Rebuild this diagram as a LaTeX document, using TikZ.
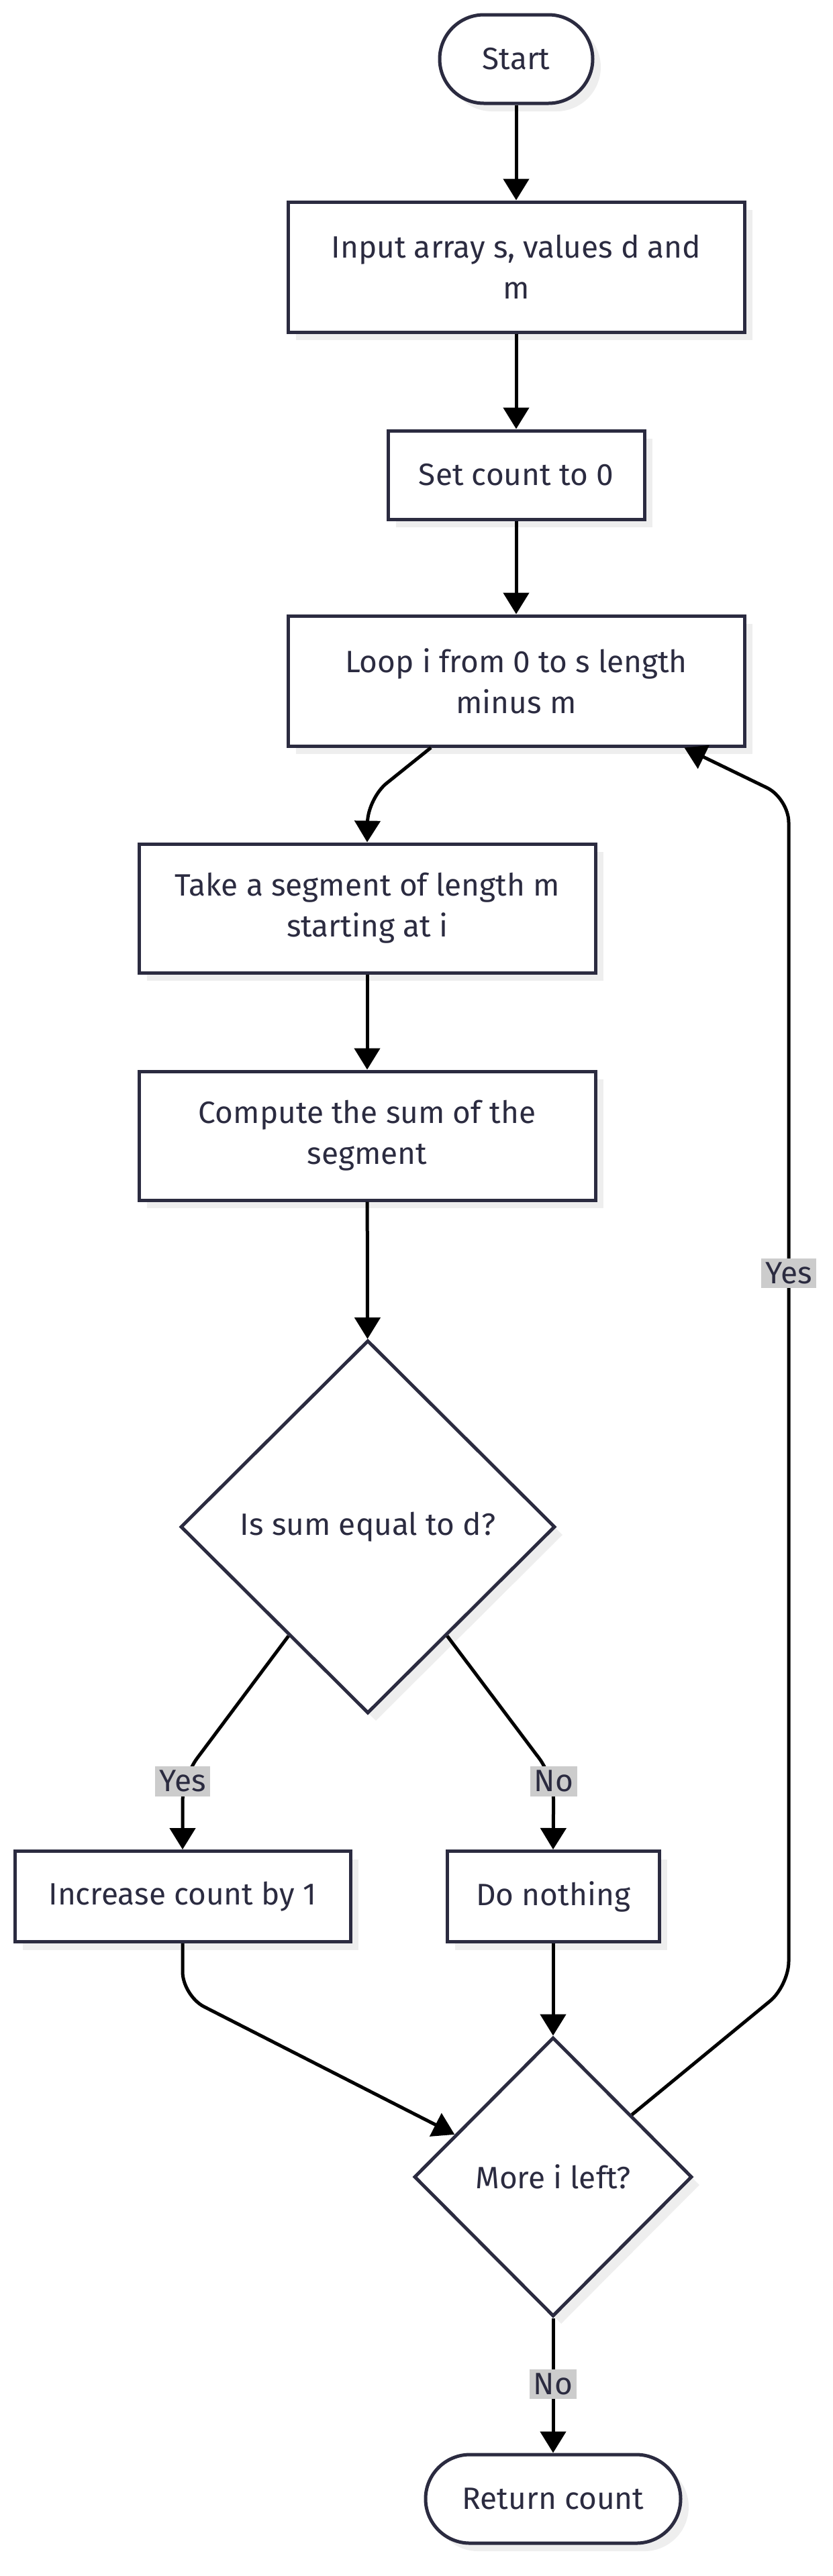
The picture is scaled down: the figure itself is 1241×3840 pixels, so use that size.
\documentclass[tikz,border=0pt]{standalone}
\usepackage{fontspec}
\setmainfont{Fira Sans}
\usetikzlibrary{positioning,arrows.meta,shapes.geometric,shadows,calc}
\definecolor{cink}{HTML}{2B2B40}
\definecolor{clabel}{HTML}{CCCCCC}
\definecolor{cshade}{HTML}{EEEEEE}

\begin{document}
\begin{tikzpicture}[x=0.5pt, y=-0.5pt,
  font=\fontsize{23}{30.5}\selectfont,
  base/.style={draw=cink, line width=2.5pt, fill=white, text=cink, align=center, inner sep=0pt,
    drop shadow={shadow xshift=6pt, shadow yshift=-6pt, fill=cshade, opacity=1}},
  box/.style={base, rectangle},
  term/.style={base, rectangle, rounded corners=33pt},
  decide/.style={base, diamond},
  arr/.style={-{Triangle[length=16pt, width=19pt]}, black, line width=2.5pt, rounded corners=18pt},
  lab/.style={fill=clabel, text=cink, inner sep=3pt, sharp corners}]
  \useasboundingbox (0,0) rectangle (1241,3840);
  % main column, then the two branches
  \node[term, minimum width=114pt, minimum height=66pt]   (start)   at (769,88)   {Start};
  \node[box, minimum width=340pt, minimum height=97pt]    (input)   at (769,398)  {Input array s, values d and\\m};
  \node[box, minimum width=191pt, minimum height=66pt]    (setc)    at (769,708)  {Set count to 0};
  \node[box, minimum width=340pt, minimum height=97pt]    (loop)    at (769,1015) {Loop i from 0 to s length\\minus m};
  \node[box, minimum width=340pt, minimum height=96pt]    (take)    at (547,1354) {Take a segment of length m\\starting at i};
  \node[box, minimum width=340pt, minimum height=96pt]    (comp)    at (547,1693) {Compute the sum of the\\segment};
  \node[decide, minimum width=279pt, minimum height=278pt] (issum)  at (548,2276) {Is sum equal to d?};
  \node[box, minimum width=250pt, minimum height=67.5pt]  (inc)     at (272,2827) {Increase count by 1};
  \node[box, minimum width=158pt, minimum height=67.5pt]  (nothing) at (824,2827) {Do nothing};
  \node[decide, minimum width=207pt, minimum height=208pt] (more)   at (824,3245) {More i left?};
  \node[term, minimum width=190pt, minimum height=66pt]   (ret)     at (824,3725) {Return count};
  % connectors
  \draw[arr] (start) -- (input);
  \draw[arr] (input) -- (setc);
  \draw[arr] (setc) -- (loop);
  \draw[arr] ([xshift=-63.5pt]loop.south) -- (548,1190) -- (take.north);
  \draw[arr] (take) -- (comp);
  \draw[arr] (comp) -- (issum);
  \draw[arr] ($(issum.west)!0.58!(issum.south)$) -- (272,2650) -- node[lab, pos=0.05]{Yes} (inc.north);
  \draw[arr] ($(issum.east)!0.58!(issum.south)$) -- (825,2650) -- node[lab, pos=0.05]{No} (nothing.north);
  \draw[arr] (inc.south) -- (272,2975) -- ($(more.west)!0.3!(more.north)$);
  \draw[arr] (nothing) -- (more);
  \draw[arr] ($(more.north)!0.56!(more.east)$) -- (1175,2960) -- node[lab, pos=0.6]{Yes} (1175,1190) -- ([xshift=-46pt]loop.south east);
  \draw[arr] (more) -- node[lab, pos=0.49]{No} (ret);
\end{tikzpicture}
\end{document}
